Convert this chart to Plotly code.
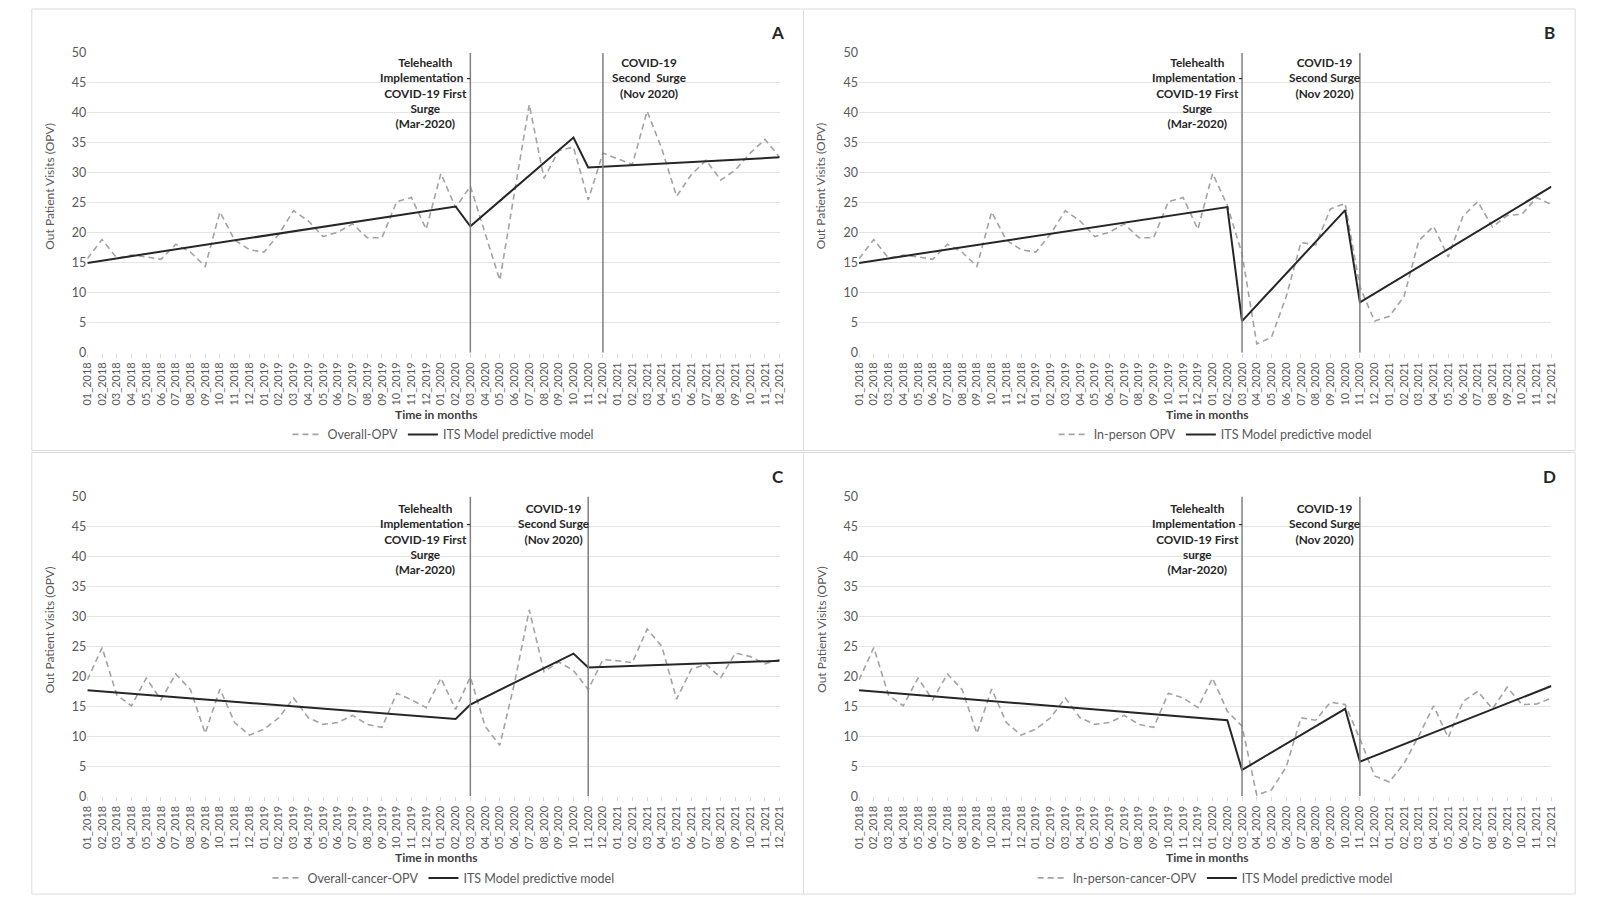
import plotly.graph_objects as go

# ---------------- data ----------------
months = [
    "01_2018", "02_2018", "03_2018", "04_2018", "05_2018", "06_2018",
    "07_2018", "08_2018", "09_2018", "10_2018", "11_2018", "12_2018",
    "01_2019", "02_2019", "03_2019", "04_2019", "05_2019", "06_2019",
    "07_2019", "08_2019", "09_2019", "10_2019", "11_2019", "12_2019",
    "01_2020", "02_2020", "03_2020", "04_2020", "05_2020", "06_2020",
    "07_2020", "08_2020", "09_2020", "10_2020", "11_2020", "12_2020",
    "01_2021", "02_2021", "03_2021", "04_2021", "05_2021", "06_2021",
    "07_2021", "08_2021", "09_2021", "10_2021", "11_2021", "12_2021",
]

overall_opv = [
    15.7, 18.9, 15.8, 16.3, 16.0, 15.6, 18.1, 16.8, 14.4, 23.5, 18.8, 17.2,
    16.8, 19.8, 23.7, 22.0, 19.4, 20.1, 21.5, 19.2, 19.2, 25.2, 25.9, 20.6,
    29.9, 24.2, 27.8, 20.0, 12.1, 26.8, 41.4, 29.1, 33.7, 34.3, 25.5, 33.3,
    32.3, 31.4, 40.3, 34.0, 26.1, 29.7, 32.1, 28.8, 30.5, 33.3, 35.6, 32.6,
]
inperson_opv = [
    15.7, 18.9, 15.8, 16.3, 16.0, 15.6, 18.1, 16.8, 14.4, 23.5, 18.8, 17.2,
    16.8, 19.8, 23.7, 22.0, 19.4, 20.1, 21.5, 19.2, 19.2, 25.2, 25.9, 20.6,
    29.9, 24.6, 16.5, 1.5, 2.6, 9.4, 18.4, 18.0, 24.0, 24.9, 11.0, 5.3,
    6.1, 9.4, 18.7, 21.1, 16.0, 22.8, 25.2, 21.0, 22.9, 23.1, 25.9, 24.7,
]
overall_cancer_opv = [
    19.4, 24.8, 16.9, 15.1, 19.7, 16.1, 20.4, 17.8, 10.5, 17.9, 12.3, 10.2,
    11.2, 13.1, 16.4, 13.1, 12.0, 12.3, 13.5, 12.0, 11.5, 17.2, 16.1, 14.8,
    19.7, 14.5, 19.9, 11.7, 8.5, 18.9, 31.1, 20.8, 22.4, 21.0, 17.8, 22.8,
    22.6, 22.3, 27.9, 25.0, 16.2, 21.2, 22.0, 19.8, 23.9, 23.3, 22.1, 22.8,
]
inperson_cancer_opv = [
    19.4, 24.8, 16.9, 15.1, 19.7, 16.1, 20.4, 17.8, 10.5, 17.9, 12.3, 10.2,
    11.2, 13.1, 16.4, 13.1, 12.0, 12.3, 13.5, 12.0, 11.5, 17.2, 16.4, 14.8,
    19.7, 14.2, 11.7, 0.2, 1.1, 4.9, 13.1, 12.7, 15.7, 15.3, 9.6, 3.4,
    2.4, 5.5, 10.1, 15.1, 9.8, 15.8, 17.5, 14.6, 18.2, 15.3, 15.4, 16.4,
]

# ITS model breakpoints (segmented regression lines)
its_months = ["01_2018", "02_2020", "03_2020", "10_2020", "11_2020", "12_2021"]
its_a = [15.0, 24.4, 21.1, 35.9, 30.9, 32.6]
its_b = [15.0, 24.3, 5.3, 23.8, 8.4, 27.7]
its_c = [17.7, 12.9, 15.3, 23.8, 21.5, 22.6]
its_d = [17.7, 12.7, 4.4, 14.6, 5.8, 18.4]

events_a = ["03_2020", "12_2020"]
events_bcd = ["03_2020", "11_2020"]

first_label = "Telehealth<br>Implementation -<br>COVID-19 First<br>Surge<br>(Mar-2020)"
first_label_d = "Telehealth<br>Implementation -<br>COVID-19 First<br>surge<br>(Mar-2020)"
second_label_a = "COVID-19<br>Second  Surge<br>(Nov 2020)"
second_label = "COVID-19<br>Second Surge<br>(Nov 2020)"

its_name = "ITS Model predictive model"

# ---------------- layout helpers ----------------
W, H = 1605, 902


def fx(p):
    return p / W


def fy(p):
    return 1 - p / H


FONT = "Lato, 'Open Sans', sans-serif"
GRAY_TXT = "#595959"
DARK = "#262626"

panels = [
    dict(letter="A", name="Overall-OPV", vals=overall_opv, its=its_a, events=events_a,
         x0=81, x1=779, ytop=45.7, ybot=350.7, off_x=0, off_y=0,
         ann1=first_label, ann1x=422, ann2=second_label_a, ann2x=647),
    dict(letter="B", name="In-person OPV", vals=inperson_opv, its=its_b, events=events_bcd,
         x0=859, x1=1557, ytop=45.7, ybot=350.7, off_x=778, off_y=0,
         ann1=first_label, ann1x=1200, ann2=second_label, ann2x=1328),
    dict(letter="C", name="Overall-cancer-OPV", vals=overall_cancer_opv, its=its_c, events=events_bcd,
         x0=81, x1=779, ytop=496.7, ybot=801.7, off_x=0, off_y=451,
         ann1=first_label, ann1x=422, ann2=second_label, ann2x=551),
    dict(letter="D", name="In-person-cancer-OPV", vals=inperson_cancer_opv, its=its_d, events=events_bcd,
         x0=859, x1=1557, ytop=496.7, ybot=801.7, off_x=778, off_y=451,
         ann1=first_label_d, ann1x=1200, ann2=second_label, ann2x=1328),
]

fig = go.Figure()
shapes = []
annotations = []
layout_axes = {}

for i, p in enumerate(panels, start=1):
    sx = "" if i == 1 else str(i)
    xref, yref = "x" + sx, "y" + sx
    legend_id = "legend" + sx

    fig.add_trace(go.Scatter(
        x=months, y=p["vals"], mode="lines", name=p["name"],
        line=dict(color="#a3a3a3", width=1.6, dash="6px,4px"),
        xaxis=xref, yaxis=yref, legend=legend_id, hoverinfo="x+y",
    ))
    fig.add_trace(go.Scatter(
        x=its_months, y=p["its"], mode="lines", name=its_name,
        line=dict(color=DARK, width=2),
        xaxis=xref, yaxis=yref, legend=legend_id, hoverinfo="x+y",
    ))

    layout_axes["xaxis" + sx] = dict(
        domain=[fx(p["x0"]), fx(p["x1"])], anchor=yref,
        type="category", categoryorder="array", categoryarray=months,
        range=[0, 47], tickmode="linear", tick0=0, dtick=1,
        tickangle=-90, tickfont=dict(size=11, color=GRAY_TXT, family=FONT),
        showgrid=False, zeroline=False, showline=False,
        ticks="outside", ticklen=4, tickcolor="#d9d9d9",
        fixedrange=True,
    )
    layout_axes["yaxis" + sx] = dict(
        domain=[fy(p["ybot"]), fy(p["ytop"])], anchor=xref,
        range=[0, 50], tickmode="linear", tick0=0, dtick=5,
        tickfont=dict(size=12.5, color=GRAY_TXT, family=FONT),
        showgrid=True, gridcolor="#e4e4e4", gridwidth=1,
        zeroline=False, showline=False, ticks="", fixedrange=True,
    )

    # legend
    leg_y = 433 + p["off_y"] + 1
    layout_axes[legend_id] = dict(
        orientation="h", x=fx(440 + p["off_x"]), xanchor="center",
        y=fy(leg_y), yanchor="middle",
        font=dict(size=12.5, color=GRAY_TXT, family=FONT),
        bgcolor="rgba(0,0,0,0)", traceorder="normal",
        itemwidth=30,
    )

    # event lines
    for ev in p["events"]:
        shapes.append(dict(type="line", xref=xref, yref=yref,
                           x0=ev, x1=ev, y0=0, y1=50,
                           line=dict(color="#7f7f7f", width=1.5)))

    # panel border
    bx0 = 25 + p["off_x"]
    bx1 = bx0 + 778
    by0 = 1 + p["off_y"]
    by1 = by0 + 449
    shapes.append(dict(type="rect", xref="paper", yref="paper",
                       x0=fx(bx0), x1=fx(bx1), y0=fy(by1), y1=fy(by0),
                       line=dict(color="#dcdcdc", width=1), layer="below"))

    # event annotations
    top = 46 + p["off_y"] + (2 if p["off_y"] else 0)
    for txt, ax in ((p["ann1"], p["ann1x"]), (p["ann2"], p["ann2x"])):
        annotations.append(dict(
            text="<b>" + txt + "</b>", xref="paper", yref="paper",
            x=fx(ax), y=fy(top), xanchor="center", yanchor="top",
            showarrow=False, align="center",
            font=dict(size=11.8, color=DARK, family=FONT),
        ))

    # panel letter
    annotations.append(dict(
        text="<b>" + p["letter"] + "</b>", xref="paper", yref="paper",
        x=fx(777 + p["off_x"]), y=fy(25 + p["off_y"]),
        xanchor="center", yanchor="middle", showarrow=False,
        font=dict(size=17, color=DARK, family=FONT),
    ))

    # axis titles
    annotations.append(dict(
        text="<b>Time in months</b>", xref="paper", yref="paper",
        x=fx(432 + p["off_x"]), y=fy(413 + p["off_y"]),
        xanchor="center", yanchor="middle", showarrow=False,
        font=dict(size=12, color="#404040", family=FONT),
    ))
    annotations.append(dict(
        text="Out Patient Visits (OPV)", xref="paper", yref="paper",
        x=fx(43 + p["off_x"]), y=fy(181 + p["off_y"]),
        xanchor="center", yanchor="middle", showarrow=False, textangle=-90,
        font=dict(size=12, color=GRAY_TXT, family=FONT),
    ))

fig.update_layout(
    width=W, height=H,
    margin=dict(l=0, r=0, t=0, b=0),
    paper_bgcolor="white", plot_bgcolor="white",
    font=dict(family=FONT, color=GRAY_TXT),
    shapes=shapes, annotations=annotations,
    showlegend=True,
    **layout_axes,
)

# remove the default page margin so the figure fills the window exactly
fig.write_html(
    "out.html",
    config={"displayModeBar": False},
    post_script="document.body.style.margin='0';document.body.style.overflow='hidden';",
)
